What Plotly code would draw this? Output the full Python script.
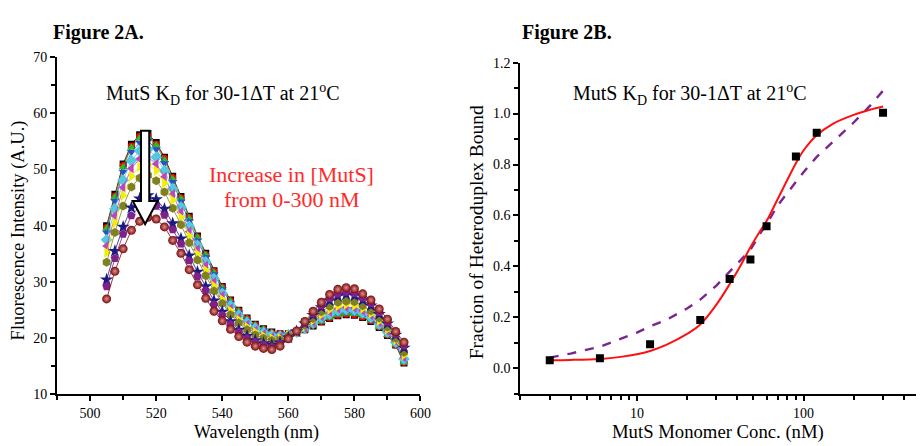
import plotly.graph_objects as go

# ---- Figure 2A: emission spectra, one series per MutS concentration ----
wavelength = [505, 507.5, 510, 512.5, 515, 517.5, 520, 522.5, 525, 527.5,
              530, 532.5, 535, 537.5, 540, 542.5, 545, 547.5, 550, 552.5,
              555, 557.5, 560, 562.5, 565, 567.5, 570, 572.5, 575, 577.5,
              580, 582.5, 585, 587.5, 590, 592.5, 595]

s_black = [40.0, 45.6, 51.0, 54.5, 56.2, 56.4, 54.8, 52.2, 48.8, 45.2, 41.7, 38.2, 35.1, 32.0, 29.2, 26.8, 25.0, 23.6, 22.5, 21.7,
           21.1, 20.8, 20.8, 21.0, 21.5, 22.2, 22.9, 23.5, 24.0, 24.2, 24.1, 23.7, 23.0, 21.9, 20.5, 18.8, 15.6]
s_red = [39.7, 45.3, 50.7, 54.2, 55.9, 56.1, 54.5, 52.0, 48.6, 45.0, 41.5, 38.0, 34.9, 31.9, 29.1, 26.7, 24.9, 23.5, 22.4, 21.6,
         21.0, 20.8, 20.8, 21.0, 21.5, 22.3, 23.0, 23.6, 24.1, 24.3, 24.2, 23.8, 23.1, 22.0, 20.6, 18.8, 15.7]
s_green = [39.5, 45.1, 50.4, 53.9, 55.6, 55.8, 54.3, 51.7, 48.3, 44.8, 41.3, 37.9, 34.8, 31.7, 29.0, 26.6, 24.8, 23.4, 22.3, 21.6,
           21.0, 20.7, 20.8, 21.0, 21.6, 22.3, 23.0, 23.7, 24.2, 24.4, 24.3, 23.9, 23.2, 22.0, 20.6, 18.9, 15.7]
s_blue = [38.8, 44.4, 49.6, 53.1, 54.8, 55.1, 53.6, 51.1, 47.8, 44.3, 40.8, 37.4, 34.4, 31.4, 28.7, 26.3, 24.6, 23.2, 22.1, 21.4,
          20.8, 20.6, 20.7, 21.0, 21.6, 22.4, 23.2, 23.9, 24.4, 24.6, 24.5, 24.1, 23.3, 22.2, 20.8, 19.0, 15.9]
s_cyan = [37.5, 43.0, 48.1, 51.6, 53.3, 53.6, 52.2, 49.8, 46.6, 43.3, 39.9, 36.5, 33.6, 30.6, 28.0, 25.8, 24.1, 22.8, 21.8, 21.0,
          20.5, 20.4, 20.6, 21.1, 21.8, 22.7, 23.6, 24.3, 24.9, 25.1, 25.0, 24.5, 23.7, 22.5, 21.1, 19.3, 16.3]
s_magenta = [36.4, 41.8, 46.8, 50.2, 51.9, 52.2, 51.0, 48.7, 45.6, 42.4, 39.0, 35.8, 32.9, 30.0, 27.5, 25.3, 23.7, 22.4, 21.4, 20.7,
             20.2, 20.2, 20.5, 21.1, 21.9, 22.9, 23.9, 24.7, 25.3, 25.5, 25.4, 24.9, 24.1, 22.8, 21.3, 19.5, 16.6]
s_yellow = [35.2, 40.5, 45.4, 48.8, 50.5, 50.9, 49.8, 47.6, 44.6, 41.5, 38.2, 35.0, 32.1, 29.3, 26.9, 24.9, 23.3, 22.0, 21.1, 20.4,
            20.0, 20.0, 20.5, 21.1, 22.1, 23.2, 24.2, 25.1, 25.7, 26.0, 25.8, 25.3, 24.4, 23.1, 21.6, 19.7, 17.0]
s_olive = [33.5, 38.8, 43.5, 46.9, 48.5, 49.0, 48.0, 46.0, 43.1, 40.2, 37.0, 33.9, 31.1, 28.4, 26.2, 24.2, 22.7, 21.5, 20.6, 20.0,
           19.6, 19.7, 20.4, 21.2, 22.3, 23.5, 24.7, 25.7, 26.4, 26.6, 26.5, 25.8, 24.9, 23.6, 22.0, 20.0, 17.5]
s_navy = [30.4, 35.5, 39.8, 43.2, 44.8, 45.4, 44.7, 43.0, 40.4, 37.7, 34.7, 31.8, 29.2, 26.7, 24.7, 23.0, 21.5, 20.4, 19.6, 19.1,
          18.8, 19.2, 20.1, 21.2, 22.6, 24.1, 25.5, 26.7, 27.5, 27.8, 27.6, 26.8, 25.8, 24.3, 22.6, 20.6, 18.3]
s_purple = [29.2, 34.2, 38.5, 41.8, 43.4, 44.0, 43.5, 41.9, 39.3, 36.8, 33.8, 31.0, 28.5, 26.0, 24.1, 22.5, 21.1, 20.0, 19.3, 18.8,
            18.5, 19.0, 20.1, 21.2, 22.7, 24.4, 25.8, 27.1, 27.9, 28.2, 28.0, 27.2, 26.2, 24.6, 22.9, 20.8, 18.7]
s_wine = [27.0, 31.9, 35.9, 39.2, 40.8, 41.5, 41.2, 39.8, 37.4, 35.1, 32.2, 29.5, 27.1, 24.8, 23.1, 21.6, 20.3, 19.3, 18.6, 18.2,
          18.0, 18.6, 19.9, 21.3, 23.0, 24.8, 26.4, 27.8, 28.7, 29.0, 28.8, 27.9, 26.8, 25.2, 23.4, 21.2, 19.3]

# ---- Figure 2B: binding curve ----
conc = [3, 6, 12, 24, 36, 48, 60, 90, 120, 300]
frac_bound = [0.032, 0.040, 0.095, 0.190, 0.351, 0.427, 0.558, 0.832, 0.925, 1.003]

fit_x = [3, 4, 6, 8, 10, 12, 15, 20, 24, 30, 36, 42, 48, 55, 60, 70, 80, 90, 100, 120, 150, 200, 250, 300]
fit_hill = [0.032, 0.033, 0.037, 0.045, 0.055, 0.068, 0.092, 0.135, 0.172, 0.25, 0.33, 0.405, 0.475, 0.54, 0.578,
            0.665, 0.74, 0.805, 0.855, 0.915, 0.96, 0.995, 1.015, 1.028]
fit_simple = [0.042, 0.058, 0.085, 0.115, 0.14, 0.165, 0.19, 0.235, 0.27, 0.325, 0.38, 0.425, 0.465, 0.53, 0.565,
              0.64, 0.69, 0.735, 0.77, 0.83, 0.89, 0.965, 1.03, 1.09]

SERIF = "Liberation Serif"

styles = [
    (s_black, "#000000", "square", 7),
    (s_red, "#ff0000", "circle", 7),
    (s_green, "#22c022", "triangle-up", 8),
    (s_blue, "#2b4fc8", "triangle-down", 8),
    (s_cyan, "#55c8e0", "diamond", 9),
    (s_magenta, "#c045b8", "triangle-left", 9),
    (s_yellow, "#f0f000", "triangle-right", 9),
    (s_olive, "#808020", "hexagon", 9),
    (s_navy, "#1a1a80", "star", 10),
    (s_purple, "#80208a", "pentagon", 9),
]

fig = go.Figure()

for ys, col, sym, sz in styles:
    fig.add_trace(go.Scatter(
        x=wavelength, y=ys, mode="lines+markers", xaxis="x", yaxis="y",
        line=dict(color=col, width=0.8),
        marker=dict(color=col, symbol=sym, size=sz, line=dict(width=0)),
        showlegend=False))

# wine "sphere" markers
fig.add_trace(go.Scatter(
    x=wavelength, y=s_wine, mode="lines+markers", xaxis="x", yaxis="y",
    line=dict(color="#800000", width=0.8),
    marker=dict(color="#7a0a0a", symbol="circle", size=9, line=dict(width=0),
                gradient=dict(type="radial", color="#e09090")),
    showlegend=False))

# right panel
fig.add_trace(go.Scatter(
    x=fit_x, y=fit_simple, mode="lines", xaxis="x2", yaxis="y2",
    line=dict(color="#7a2590", width=2.4, dash="dash"), showlegend=False))
fig.add_trace(go.Scatter(
    x=fit_x, y=fit_hill, mode="lines", xaxis="x2", yaxis="y2",
    line=dict(color="#ff1010", width=2, shape="spline"), showlegend=False))
fig.add_trace(go.Scatter(
    x=conc, y=frac_bound, mode="markers", xaxis="x2", yaxis="y2",
    marker=dict(color="black", symbol="square", size=8), showlegend=False))

W, H = 924, 446

def px(xp):
    return xp / W

def py(yp):
    return 1 - yp / H

axis_common = dict(
    showline=True, linecolor="black", linewidth=2, showgrid=False, zeroline=False,
    ticks="outside", ticklen=5, tickwidth=2, tickcolor="black",
    tickfont=dict(family=SERIF, size=14, color="black"), mirror=False,
)
minor_common = dict(ticks="outside", ticklen=4, tickwidth=2, tickcolor="black")

fig.update_layout(
    width=W, height=H, margin=dict(l=0, r=0, t=0, b=0),
    paper_bgcolor="white", plot_bgcolor="white",
    font=dict(family=SERIF, color="black"),
    xaxis=dict(axis_common, domain=[px(49.6), px(417)], range=[490, 600],
               tickvals=[500, 520, 540, 560, 580, 600], anchor="y",
               minor=dict(minor_common, tickvals=[490, 510, 530, 550, 570, 590])),
    yaxis=dict(axis_common, domain=[py(392.7), py(43.5)], range=[10, 70],
               tickvals=[10, 20, 30, 40, 50, 60, 70], anchor="x",
               minor=dict(minor_common, tickvals=[15, 25, 35, 45, 55, 65])),
    xaxis2=dict(axis_common, type="log", domain=[px(518), px(922)],
                range=[0.301, 2.699], tickvals=[10, 100], ticktext=["10", "100"],
                anchor="y2",
                minor=dict(minor_common,
                           tickvals=[2, 3, 4, 5, 6, 7, 8, 9, 20, 30, 40, 50, 60, 70, 80, 90,
                                     200, 300, 400, 500])),
    yaxis2=dict(axis_common, domain=[py(392), py(49.3)], range=[-0.1, 1.2],
                tickvals=[0.0, 0.2, 0.4, 0.6, 0.8, 1.0, 1.2], tickformat=".1f",
                anchor="x2",
                minor=dict(minor_common, tickvals=[-0.1, 0.1, 0.3, 0.5, 0.7, 0.9, 1.1])),
)

# white down arrow over the peak
fig.add_shape(
    type="path", xref="x", yref="y", layer="above",
    path="M 515.4,56.9 L 517.9,56.9 L 517.9,44.4 L 520.4,44.4 L 516.65,40.3 "
         "L 512.9,44.4 L 515.4,44.4 Z",
    fillcolor="white", line=dict(color="black", width=2))

subtitle = "MutS K<sub>D</sub> for 30-1ΔT at 21<sup>o</sup>C"

annots = [
    ("<b>Figure 2A.</b>", 91, 18, 20, "black"),
    ("<b>Figure 2B.</b>", 565, 18, 20, "black"),
    (subtitle, 217, 82, 20, "black"),
    (subtitle, 689, 82, 20, "black"),
    ("Increase in [MutS]", 287, 165, 22, "#ff2a2a"),
    ("from 0-300 nM", 287, 191, 22, "#ff2a2a"),
    ("Wavelength (nm)", 251, 432, 18, "black"),
    ("MutS Monomer Conc. (nM)", 718, 432, 18.7, "black"),
]
for text, xp, yp, size, color in annots:
    fig.add_annotation(text=text, x=px(xp), y=py(yp), xref="paper", yref="paper",
                       xanchor="center", yanchor="middle", showarrow=False,
                       font=dict(family=SERIF, size=size, color=color))

fig.add_annotation(text="Fluorescence Intensity (A.U.)", x=px(11), y=py(223),
                   xref="paper", yref="paper", textangle=-90, showarrow=False,
                   xanchor="center", yanchor="middle",
                   font=dict(family=SERIF, size=18.5, color="black"))
fig.add_annotation(text="Fraction of Heteroduplex Bound", x=px(474), y=py(225),
                   xref="paper", yref="paper", textangle=-90, showarrow=False,
                   xanchor="center", yanchor="middle",
                   font=dict(family=SERIF, size=19.5, color="black"))

fig.write_html("out.html")
